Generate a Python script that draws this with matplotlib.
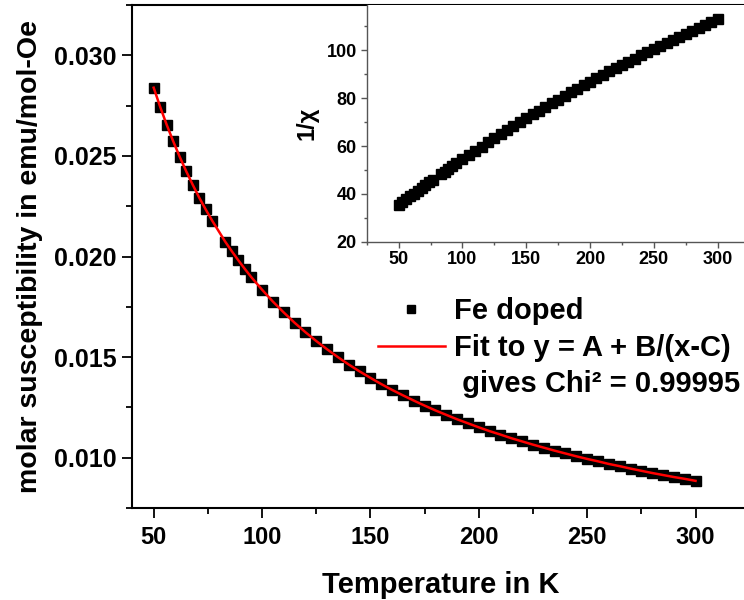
import matplotlib
matplotlib.use('Agg')
import matplotlib.pyplot as plt
from matplotlib.ticker import MultipleLocator, FormatStrFormatter

plt.rcParams['font.family'] = ['Liberation Sans', 'DejaVu Sans']
plt.rcParams['font.weight'] = 'bold'

# temperature in K
temperature = [50, 53, 56, 59, 62, 65, 68, 71, 74, 77,
               83, 86, 89, 92, 95,
               100, 105, 110, 115, 120, 125, 130, 135, 140, 145,
               150, 155, 160, 165, 170, 175, 180, 185, 190, 195,
               200, 205, 210, 215, 220, 225, 230, 235, 240, 245,
               250, 255, 260, 265, 270, 275, 280, 285, 290, 295, 300]

# molar susceptibility (emu/mol-Oe)
chi = [0.02839, 0.02744, 0.02655, 0.02573, 0.02496, 0.02424, 0.02357, 0.02293, 0.02234, 0.02178,
       0.02074, 0.02027, 0.01982, 0.01939, 0.01898,
       0.01835, 0.01776, 0.01722, 0.01671, 0.01624, 0.01580, 0.01539, 0.01500, 0.01463, 0.01429,
       0.01397, 0.01366, 0.01337, 0.01310, 0.01284, 0.01259, 0.01235, 0.01213, 0.01191, 0.01171,
       0.01151, 0.01132, 0.01115, 0.01097, 0.01081, 0.01065, 0.01050, 0.01035, 0.01021, 0.01007,
       0.00994, 0.00982, 0.00969, 0.00958, 0.00946, 0.00935, 0.00924, 0.00914, 0.00904, 0.00895, 0.00885]

# fit curve y = A + B/(x-C)
chi_fit = [0.02839, 0.02744, 0.02655, 0.02573, 0.02496, 0.02424, 0.02357, 0.02293, 0.02234, 0.02178,
           0.02074, 0.02027, 0.01982, 0.01939, 0.01898,
           0.01835, 0.01776, 0.01722, 0.01671, 0.01624, 0.01580, 0.01539, 0.01500, 0.01463, 0.01429,
           0.01397, 0.01366, 0.01337, 0.01310, 0.01284, 0.01259, 0.01235, 0.01213, 0.01191, 0.01171,
           0.01151, 0.01132, 0.01115, 0.01097, 0.01081, 0.01065, 0.01050, 0.01035, 0.01021, 0.01007,
           0.00994, 0.00982, 0.00969, 0.00958, 0.00946, 0.00935, 0.00924, 0.00914, 0.00904, 0.00895, 0.00885]

# inset: 1/chi
inv_chi = [35.2, 36.4, 37.7, 38.9, 40.1, 41.3, 42.4, 43.6, 44.8, 45.9,
           48.2, 49.3, 50.5, 51.6, 52.7,
           54.5, 56.3, 58.1, 59.8, 61.6, 63.3, 65.0, 66.7, 68.4, 70.0,
           71.6, 73.2, 74.8, 76.3, 77.9, 79.4, 81.0, 82.4, 84.0, 85.4,
           86.9, 88.3, 89.7, 91.2, 92.5, 93.9, 95.2, 96.6, 97.9, 99.3,
           100.6, 101.8, 103.2, 104.4, 105.7, 107.0, 108.2, 109.4, 110.6, 111.7, 113.0]

fig = plt.figure(figsize=(7.44, 6.0), dpi=100)

# ---------------- main plot ----------------
ax = fig.add_axes([0.1774, 0.1533, 0.8303, 0.8384])
ax.plot(temperature, chi, 's', color='black', markersize=7.5, label='Fe doped', zorder=2)
ax.plot(temperature, chi_fit, '-', color='red', linewidth=1.8, label='Fit to y = A + B/(x-C)', zorder=3)
# empty handle for the third legend line
ax.plot([], [], ' ', label=' gives Chi\u00b2 = 0.99995')

ax.set_xlim(40, 325)
ax.set_ylim(0.0075, 0.0325)
ax.xaxis.set_major_locator(MultipleLocator(50))
ax.xaxis.set_minor_locator(MultipleLocator(25))
ax.yaxis.set_major_locator(MultipleLocator(0.005))
ax.yaxis.set_minor_locator(MultipleLocator(0.0025))
ax.yaxis.set_major_formatter(FormatStrFormatter('%.3f'))
ax.tick_params(which='major', length=7, width=1.3, pad=6)
ax.tick_params(axis='x', labelsize=17)
ax.tick_params(axis='y', labelsize=18, pad=4)
ax.tick_params(which='minor', length=4, width=1.3)
for s in ax.spines.values():
    s.set_linewidth(1.5)
for lab in ax.get_xticklabels() + ax.get_yticklabels():
    lab.set_fontweight('bold')

ax.set_xlabel('Temperature in K', fontsize=21, fontweight='bold', labelpad=16)
ax.set_ylabel('molar susceptibility in emu/mol-Oe', fontsize=20.5, fontweight='bold', labelpad=8)

leg = ax.legend(loc='upper left', bbox_to_anchor=(0.508, 0.505), bbox_transform=fig.transFigure,
                frameon=False, fontsize=21, handlelength=2.3, handletextpad=0.3,
                labelspacing=0.3, borderpad=0, borderaxespad=0, markerscale=0.75)
for t in leg.get_texts():
    t.set_fontweight('bold')

# ---------------- inset ----------------
ins = fig.add_axes([0.4929, 0.5972, 0.5146, 0.3945])
ins.plot(temperature, inv_chi, 's', color='black', markersize=6.5)
ins.set_xlim(25, 325)
ins.set_ylim(20, 119)
ins.xaxis.set_major_locator(MultipleLocator(50))
ins.xaxis.set_minor_locator(MultipleLocator(25))
ins.yaxis.set_major_locator(MultipleLocator(20))
ins.yaxis.set_minor_locator(MultipleLocator(10))
ins.spines['top'].set_visible(False)
ins.spines['right'].set_visible(False)
for s in ['left', 'bottom']:
    ins.spines[s].set_color('#555555')
    ins.spines[s].set_linewidth(1.0)
ins.tick_params(which='major', length=4, width=1.0, color='#555555', labelsize=13, pad=3)
ins.tick_params(which='minor', length=2.5, width=1.0, color='#555555')
for lab in ins.get_xticklabels() + ins.get_yticklabels():
    lab.set_fontweight('bold')
ins.set_ylabel('1/\u03c7', fontsize=17, fontweight='bold', labelpad=6)

fig.savefig('out.png', dpi=100)
